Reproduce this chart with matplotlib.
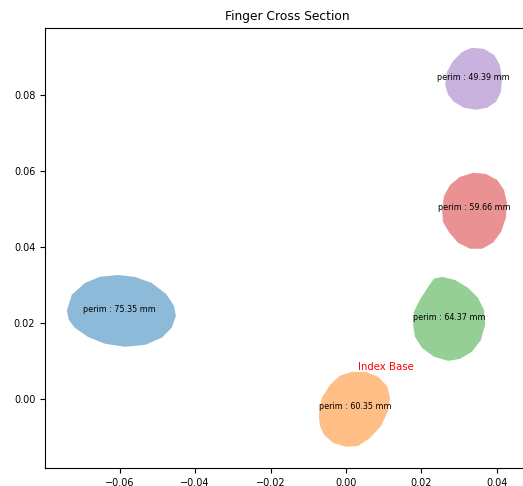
import numpy as np
import matplotlib
matplotlib.use("Agg")
import matplotlib.pyplot as plt
from matplotlib.patches import Polygon

# finger outlines (x, y in metres), one per finger
index_x = [-0.0740, -0.0727, -0.0692, -0.0653, -0.0605, -0.0560, -0.0515, -0.0477, -0.0456,
           -0.0451, -0.0462, -0.0488, -0.0533, -0.0586, -0.0639, -0.0684, -0.0719, -0.0735]
index_y = [0.0232, 0.0274, 0.0305, 0.0321, 0.0326, 0.0321, 0.0305, 0.0276, 0.0245,
           0.0218, 0.0187, 0.0161, 0.0142, 0.0137, 0.0145, 0.0163, 0.0187, 0.0208]

base_x = [-0.0072, -0.0064, -0.0042, -0.0016, 0.0016, 0.0053, 0.0085, 0.0109, 0.0117,
          0.0111, 0.0093, 0.0064, 0.0032, 0.0000, -0.0034, -0.0058, -0.0069]
base_y = [-0.0042, 0.0003, 0.0037, 0.0061, 0.0071, 0.0071, 0.0058, 0.0034, 0.0003,
          -0.0034, -0.0071, -0.0103, -0.0124, -0.0126, -0.0116, -0.0095, -0.0071]

mid_x = [0.0178, 0.0180, 0.0196, 0.0218, 0.0233, 0.0255, 0.0289, 0.0324, 0.0350,
         0.0366, 0.0369, 0.0358, 0.0334, 0.0302, 0.0271, 0.0233, 0.0202, 0.0183]
mid_y = [0.0195, 0.0229, 0.0261, 0.0295, 0.0316, 0.0321, 0.0313, 0.0292, 0.0266,
         0.0234, 0.0195, 0.0155, 0.0124, 0.0105, 0.0100, 0.0111, 0.0134, 0.0163]

ring_x = [0.0255, 0.0260, 0.0276, 0.0302, 0.0337, 0.0371, 0.0401, 0.0419, 0.0427,
          0.0424, 0.0411, 0.0390, 0.0361, 0.0329, 0.0297, 0.0273, 0.0257]
ring_y = [0.0497, 0.0534, 0.0563, 0.0584, 0.0595, 0.0592, 0.0576, 0.0550, 0.0516,
          0.0476, 0.0439, 0.0411, 0.0395, 0.0395, 0.0411, 0.0439, 0.0466]

pinky_x = [0.0263, 0.0268, 0.0284, 0.0308, 0.0334, 0.0366, 0.0393, 0.0408, 0.0414,
           0.0411, 0.0398, 0.0374, 0.0345, 0.0313, 0.0286, 0.0271]
pinky_y = [0.0826, 0.0861, 0.0889, 0.0913, 0.0924, 0.0921, 0.0905, 0.0879, 0.0845,
           0.0808, 0.0782, 0.0766, 0.0761, 0.0766, 0.0782, 0.0800]

perims = [75.35, 60.35, 64.37, 59.66, 49.39]
label_x = [-0.0600, 0.0024, 0.0273, 0.0340, 0.0337]
label_y = [0.0234, -0.0021, 0.0213, 0.0503, 0.0847]

shapes = [(index_x, index_y), (base_x, base_y), (mid_x, mid_y),
          (ring_x, ring_y), (pinky_x, pinky_y)]

fig = plt.figure(figsize=(5.23, 4.86), dpi=100)
ax = fig.add_axes([45 / 523, 18 / 486, 485 / 523, 440 / 486])

for i, (xs, ys) in enumerate(shapes):
    pts = np.column_stack([xs, ys])
    ax.add_patch(Polygon(pts, closed=True, facecolor=f"C{i}", edgecolor="none", alpha=0.5))
    ax.text(label_x[i], label_y[i], f"perim : {perims[i]:.2f} mm",
            ha="center", va="center", fontsize=5.8)

ax.text(0.0032, 0.0083, "Index Base", color="red", fontsize=7.3, ha="left", va="center")

ax.set_xlim(-0.0798, 0.0488)
ax.set_ylim(-0.0182, 0.0976)
ax.set_xticks([-0.06, -0.04, -0.02, 0.00, 0.02, 0.04])
ax.set_yticks([0.00, 0.02, 0.04, 0.06, 0.08])
ax.tick_params(labelsize=7)
ax.set_title("Finger Cross Section", fontsize=8.8)

fig.savefig("out.png", dpi=100)
